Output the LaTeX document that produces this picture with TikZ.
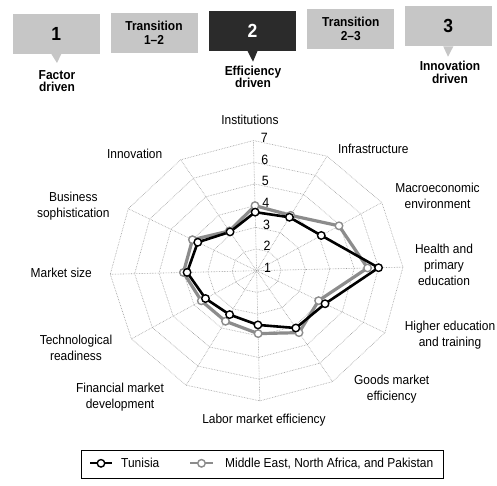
\documentclass[tikz,border=0pt]{standalone}
\usepackage{fontspec}
\setmainfont{Liberation Sans}[FakeStretch=0.92]
\usetikzlibrary{calc}
\definecolor{boxgray}{HTML}{C6C6C6}
\definecolor{boxdark}{HTML}{2B2B2B}
\definecolor{menagray}{HTML}{8C8C8C}
\definecolor{gridgray}{HTML}{9A9A9A}
\begin{document}
\begin{tikzpicture}[x=1pt,y=1pt,
  stage/.style={fill=boxgray, minimum width=87pt, minimum height=40pt, inner sep=0pt,
    align=center, font=\bfseries\fontsize{13}{14}\selectfont},
  stagelbl/.style={align=center, inner sep=0pt, font=\bfseries\fontsize{13}{12.5}\selectfont},
  axislbl/.style={align=center, inner sep=0pt, font=\fontsize{13}{16}\selectfont},
  scalelbl/.style={inner sep=0pt, font=\fontsize{13.5}{13.5}\selectfont},
  gridline/.style={gridgray, densely dotted, line width=0.6pt},
  tunline/.style={black, line width=2.6pt, line join=round},
  menaline/.style={menagray, line width=3.2pt, line join=round},
  tunmark/.style={circle, draw=black, fill=white, line width=1.4pt, minimum size=7.5pt, inner sep=0pt},
  menamark/.style={circle, draw=menagray, fill=white, line width=1.4pt, minimum size=7.5pt, inner sep=0pt}]
\useasboundingbox (0,0) rectangle (497,485);
\fill[white] (0,0) rectangle (497,485);

% stage boxes along the top
\node[stage] (b1) at (56.3,451.3) {\raisebox{-5pt}{\fontsize{19}{19}\selectfont 1}};
\node[stage] (b2) at (154,452) {Transition\\1–2};
\node[stage, fill=boxdark, text=white] (b3) at (252.5,454.2) {\fontsize{19}{19}\selectfont 2};
\node[stage] (b4) at (350.8,455.8) {Transition\\2–3};
\node[stage] (b5) at (448.3,458.7) {\fontsize{19}{19}\selectfont 3};

% pointers under the three main stages
\coordinate (p1) at (57,422);
\coordinate (p3) at (253,423.3);
\coordinate (p5) at (448,428.3);
\fill[boxgray] ($(b1.south)+(-5,0)$) -- (p1) -- ($(b1.south)+(5,0)$) -- cycle;
\fill[boxdark] ($(b3.south)+(-5,0)$) -- (p3) -- ($(b3.south)+(5,0)$) -- cycle;
\fill[boxgray] ($(b5.south)+(-5,0)$) -- (p5) -- ($(b5.south)+(5,0)$) -- cycle;

\node[stagelbl] (s1) at (57,403.8) {Factor\\driven};
\node[stagelbl] (s3) at (253,408.3) {Efficiency\\driven};
\node[stagelbl] (s5) at (450,412.5) {Innovation\\driven};

% radar chart: centre = score 1, outer ring = score 7
\begin{scope}[shift={(256.6,214.3)}, rotate=1.4, x=24.4pt, y=21.7pt]
  \foreach \r in {1,...,6}
    \draw[gridline] (0:\r) \foreach \a in {30,60,...,330}{ -- (\a:\r)} -- cycle;
  \foreach \a in {0,30,...,330}
    \draw[gridline] (0,0) -- (\a:6);
  \foreach \k in {1,...,7}
    \node[scalelbl] (sc\k) at (0.45,\k-0.88) {\k};

  % pillar scores (radius = score - 1): Tunisia / MENAP
  \foreach \a/\t/\m [count=\i] in {90/2.7/3.0, 60/2.8/2.9, 30/3.1/3.95, 0/5.0/4.55,
      -30/3.2/2.9, -60/3.1/3.35, -90/2.5/2.9, -120/2.3/2.65, -150/2.45/2.65,
      180/2.85/3.0, 150/2.75/3.0, 120/2.1/2.15}
    {\coordinate (t\i) at (\a:\t); \coordinate (m\i) at (\a:\m);}

  \draw[menaline] (m1) \foreach \i in {2,...,12}{ -- (m\i)} -- cycle;
  \draw[tunline] (t1) \foreach \i in {2,...,12}{ -- (t\i)} -- cycle;
  \foreach \i in {1,...,12} \node[menamark] (mm\i) at (m\i) {};
  \foreach \i in {1,...,12} \node[tunmark] (tm\i) at (t\i) {};
\end{scope}

% pillar names
\node[axislbl] (l1) at (250,365) {Institutions};
\node[axislbl] (l2) at (373.3,336) {Infrastructure};
\node[axislbl] (l3) at (437.5,289.5) {Macroeconomic\\environment};
\node[axislbl] (l4) at (444,220.3) {Health and\\primary\\education};
\node[axislbl] (l5) at (450,150.3) {Higher education\\and training};
\node[axislbl] (l6) at (391.7,95.7) {Goods market\\efficiency};
\node[axislbl] (l7) at (264,65) {Labor market efficiency};
\node[axislbl] (l8) at (120,88.3) {Financial market\\development};
\node[axislbl] (l9) at (76,137) {Technological\\readiness};
\node[axislbl] (l10) at (61.3,212.3) {Market size};
\node[axislbl] (l11) at (73.3,278.8) {Business\\sophistication};
\node[axislbl] (l12) at (134.7,331) {Innovation};

% legend
\draw[line width=0.8pt] (81.7,7) rectangle (443,35);
\coordinate (la) at (90,21.7);
\coordinate (lb) at (112,21.7);
\coordinate (lc) at (190,21.7);
\coordinate (ld) at (213,21.7);
\draw[black, line width=1.8pt] (la) -- (lb);
\node[tunmark] (lm1) at ($(la)!0.5!(lb)$) {};
\node[axislbl, anchor=west] (lt1) at (121,21.7) {Tunisia};
\draw[menagray, line width=1.8pt] (lc) -- (ld);
\node[menamark] (lm2) at ($(lc)!0.5!(ld)$) {};
\node[axislbl, anchor=west] (lt2) at (225,21.7) {Middle East, North Africa, and Pakistan};
\end{tikzpicture}
\end{document}
